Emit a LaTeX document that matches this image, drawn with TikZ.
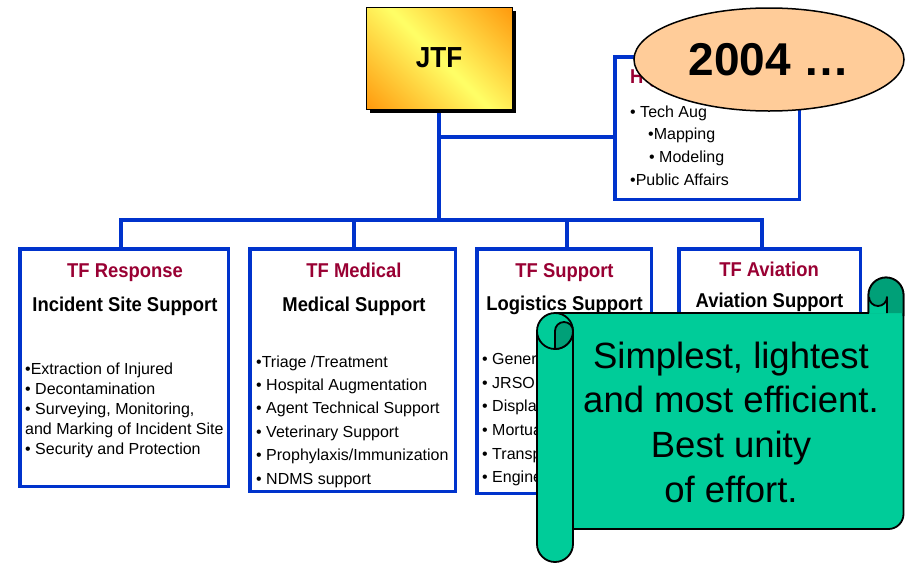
\documentclass[tikz,border=0pt]{standalone}
\usepackage{fontspec}
\setmainfont{Liberation Sans}
\newfontfamily\tfb[FakeStretch=0.92]{Liberation Sans}
\newfontfamily\jtff[FakeStretch=0.9]{Liberation Sans}
\usetikzlibrary{shapes.geometric}
\definecolor{tfblue}{RGB}{0,51,204}
\definecolor{tfred}{RGB}{153,0,51}
\definecolor{jorange}{RGB}{255,150,10}
\definecolor{jyellow}{RGB}{255,255,102}
\definecolor{peach}{RGB}{255,204,153}
\definecolor{scrollgreen}{RGB}{0,204,153}
\definecolor{scrolldark}{RGB}{0,160,120}
\begin{document}
\begin{tikzpicture}[x=1pt,y=-1pt,
  conn/.style={draw=tfblue, line width=3.5pt},
  bluebox/.style={draw=tfblue, line width=3.5pt, fill=white, rectangle, inner sep=0pt},
  ttl/.style={font=\tfb\bfseries\fontsize{20}{24}\selectfont, text=tfred, inner sep=0pt, anchor=base},
  subttl/.style={font=\tfb\bfseries\fontsize{20}{24}\selectfont, text=black, inner sep=0pt, anchor=base},
  blist/.style={align=left, inner sep=0pt, anchor=north west},
  outl/.style={draw=black, line width=1.8pt, line join=round},
]
\fill[white] (0,0) rectangle (906,563);
\useasboundingbox (0,0) rectangle (906,563);

% top box: shadow, diagonal gradient, frame and label
\fill[black] (370,11) rectangle (516,113);
\begin{scope}
  \clip (366,7) rectangle (512,109);
  \shade[left color=jorange, right color=jorange, middle color=jyellow,
         transform canvas={rotate around={45:(439,58)}}] (349,-32) rectangle (529,148);
\end{scope}
\node[rectangle, minimum width=146pt, minimum height=102pt, inner sep=0pt,
      draw=black, line width=0.8pt,
      font=\jtff\bfseries\fontsize{29}{34}\selectfont] (jtf) at (439,58) {JTF};

% HQ box
\node[bluebox, minimum width=184.5pt, minimum height=142.5pt] (hq) at (707,128) {};
\node[ttl, anchor=base west] (hqt) at (630,83) {HQ};
\node[blist, font=\fontsize{16}{22.7}\selectfont] (hql) at (630,105.4)
  {• Tech Aug\\\hspace*{18pt}•Mapping\\\hspace*{19pt}• Modeling\\•Public Affairs};

% task force boxes
\node[bluebox, minimum width=208.5pt, minimum height=237.5pt] (r1) at (124,367.5) {};
\node[bluebox, minimum width=205.5pt, minimum height=242.5pt] (r2) at (352.5,370) {};
\node[bluebox, minimum width=174.5pt, minimum height=244.5pt] (r3) at (564,371) {};
\node[bluebox, minimum width=181.5pt, minimum height=244.5pt] (r4) at (769.5,371) {};

\node[ttl] (t1) at (125,277) {TF Response};
\node[subttl] (s1) at (125,311) {Incident Site Support};
\node[ttl] (t2) at (354,277) {TF Medical};
\node[subttl] (s2) at (354,311) {Medical Support};
\node[ttl] (t3) at (564.5,277) {TF Support};
\node[subttl] (s3) at (564.5,310) {Logistics Support};
\node[ttl] (t4) at (769,276) {TF Aviation};
\node[subttl] (s4) at (769.5,307) {Aviation Support};

\node[blist, font=\fontsize{16}{20.2}\selectfont] (l1) at (25,362.3)
  {•Extraction of Injured\\• Decontamination\\• Surveying, Monitoring,\\and Marking of Incident Site\\• Security and Protection};
\node[blist, font=\fontsize{16}{23.4}\selectfont] (l2) at (256,355.3)
  {•Triage /Treatment\\• Hospital Augmentation\\• Agent Technical Support\\• Veterinary Support\\• Prophylaxis/Immunization\\• NDMS support};
\node[blist, font=\fontsize{16}{23.6}\selectfont] (l3) at (482,353.4)
  {• Genera\\• JRSOI\\• Displac\\• Mortuar\\• Transpo\\• Enginee};

% connectors
\coordinate (bus) at (439,220);
\coordinate (hqj) at (439,137);
\coordinate (d1) at (121,220);
\coordinate (d2) at (354,220);
\coordinate (d3) at (567,220);
\coordinate (d4) at (762,220);
\draw[conn] ([yshift=-4pt]jtf.south) -- (bus);
\draw[conn] (hqj) -- (hqj -| hq.west);
\draw[conn] (d1 |- r1.north) -- (d1) -- (d4) -- (d4 |- r4.north);
\draw[conn] (d2) -- (d2 |- r2.north);
\draw[conn] (d3) -- (d3 |- r3.north);

% year ellipse
\node[ellipse, draw=black, line width=1.5pt, fill=peach, minimum width=270pt,
      minimum height=103pt, inner sep=0pt,
      font=\bfseries\fontsize{46}{52}\selectfont] (yr) at (769,59.5) {2004 …};

% scroll
\path[outl, fill=scrollgreen] (555,313) -- (868.5,313) -- (868.5,295)
  arc[start angle=180, end angle=360, radius=17.5] -- (903.5,514)
  arc[start angle=0, end angle=90, radius=15] -- (555,529) -- cycle;
\fill[scrolldark] (868.5,295) arc[start angle=180, end angle=360, radius=17.5]
  -- (903.5,313) -- (868.5,313) -- cycle;
\fill[scrollgreen] (869,297) arc[start angle=180, end angle=0, radius=9]
  -- (887,313) -- (868.5,313) -- (868.5,297) -- cycle;
\draw[outl] (868.5,313) -- (868.5,295) arc[start angle=180, end angle=360, radius=17.5] -- (903.5,316);
\draw[outl] (869,297) arc[start angle=180, end angle=0, radius=9] -- (887,313);
\draw[outl] (555,313) -- (868.5,313);

\path[outl, fill=scrollgreen] (537,331) -- (537,544)
  arc[start angle=180, end angle=0, radius=18] -- (573,331)
  arc[start angle=0, end angle=-180, radius=18] -- cycle;
\draw[outl] (537,331) arc[start angle=180, end angle=0, radius=18];
\path[outl, fill=scrolldark] (555,331) arc[start angle=180, end angle=360, radius=9]
  arc[start angle=0, end angle=90, radius=18] -- cycle;

\node[align=center, inner sep=0pt, anchor=north,
      font=\fontsize{36.5}{44.7}\selectfont] (msg) at (731,341.5)
  {Simplest, lightest\\and most efficient.\\Best unity\\of effort.};
\end{tikzpicture}
\end{document}
